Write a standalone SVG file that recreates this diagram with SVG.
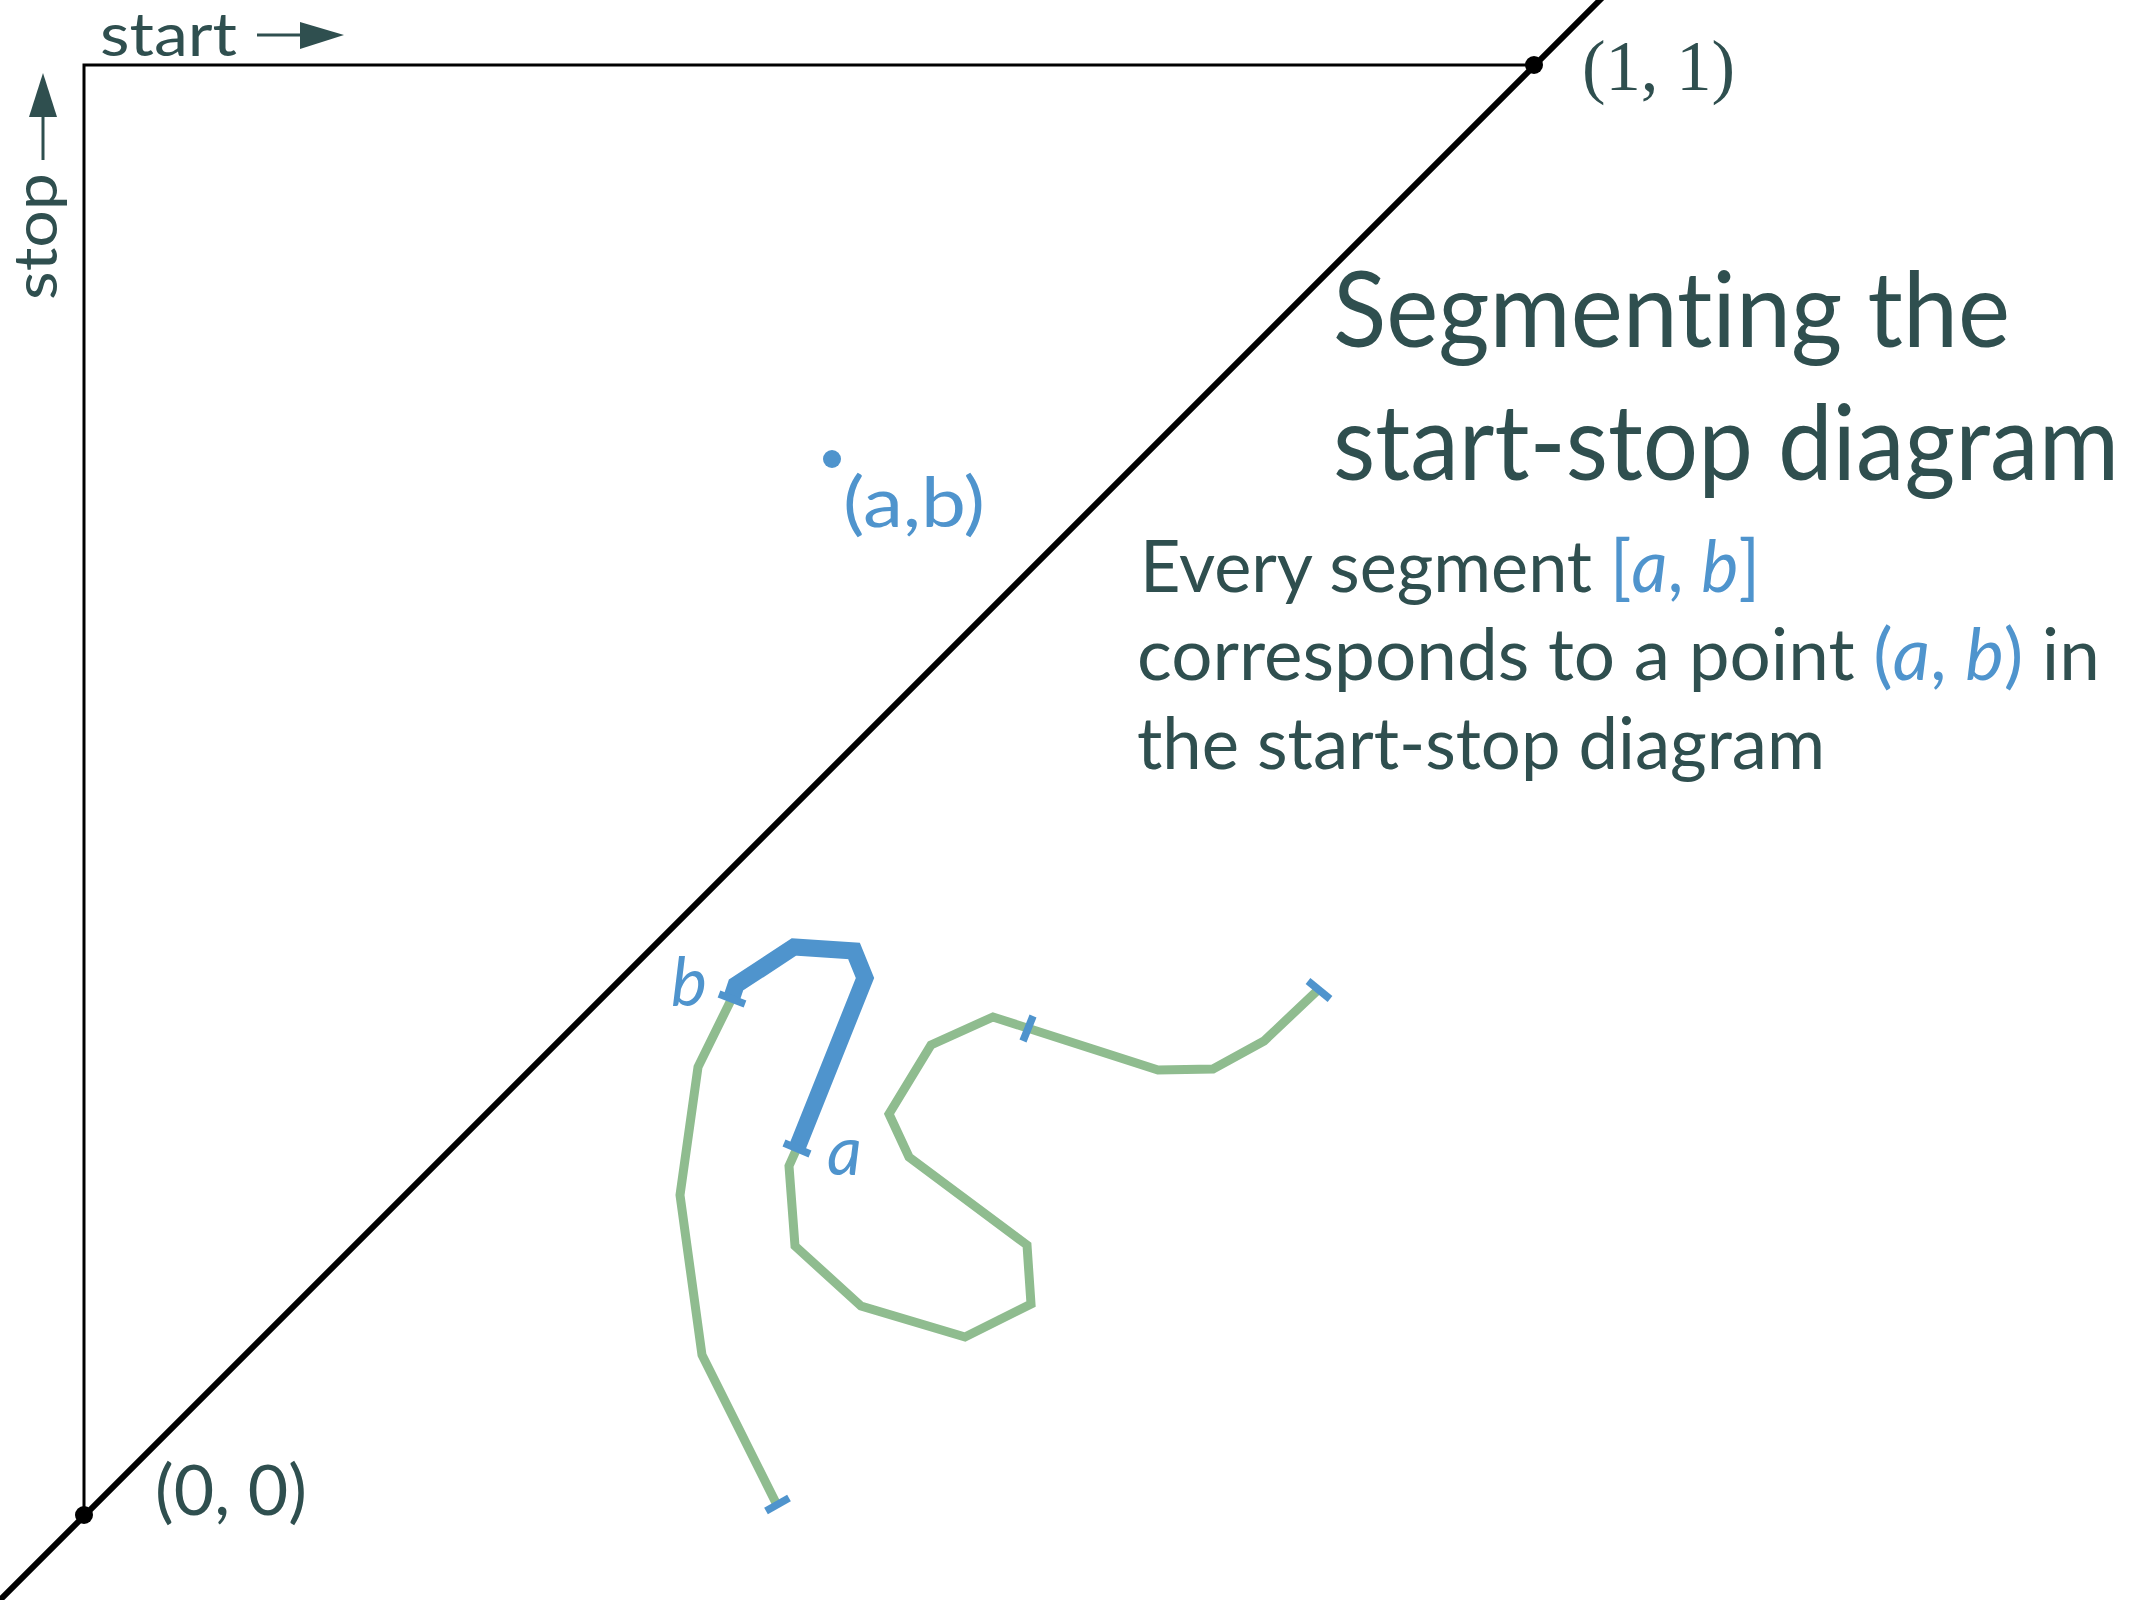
<svg xmlns="http://www.w3.org/2000/svg" width="2134" height="1600" viewBox="0 0 2134 1600">
<style>
  .ink { fill: #2f4f4f; }
  .blue { fill: #4f94cd; }
  text { font-variant-ligatures: none; }
  .sans { font-family: Lato, "Liberation Sans", sans-serif; }
  .dv { font-family: Lato, "DejaVu Sans", sans-serif; }
  .serif { font-family: "Liberation Serif", "DejaVu Serif", serif; }
  .it { font-style: italic; }
  .frame { stroke: #000; stroke-width: 3; fill: none; }
  .diag { stroke: #000; stroke-width: 6; fill: none; }
  .green { stroke: #8fbc8f; stroke-width: 9; fill: none; stroke-linejoin: miter; }
  .seg { stroke: #4f94cd; stroke-width: 17; fill: none; stroke-linejoin: miter; }
  .tick { stroke: #4f94cd; stroke-width: 7.5; fill: none; }
  .axarrow { stroke: #2f4f4f; stroke-width: 3; fill: none; }
</style>
<rect width="2134" height="1600" fill="#ffffff"/>

<g id="axes">
  <path class="frame" d="M84,1515 L84,65 L1534,65"/>
  <line class="diag" x1="-2" y1="1602" x2="1602" y2="-2"/>
  <circle cx="84" cy="1515" r="9" fill="#000"/>
  <circle cx="1534" cy="65" r="9" fill="#000"/>
</g>

<g id="start-label">
  <text class="dv ink" x="100" y="56" font-size="60" textLength="137" lengthAdjust="spacingAndGlyphs">start</text>
  <line class="axarrow" x1="257" y1="35" x2="302" y2="35"/>
  <polygon class="ink" points="300,22 344,35 300,49"/>
</g>

<g id="stop-label">
  <text class="dv ink" transform="translate(57,300) rotate(-90)" font-size="60" textLength="127" lengthAdjust="spacingAndGlyphs">stop</text>
  <line class="axarrow" x1="43" y1="160" x2="43" y2="115"/>
  <polygon class="ink" points="29,117 43,73 57,117"/>
</g>

<g id="origin-label">
  <text class="sans ink" x="155" y="1515" font-size="70" textLength="152" lengthAdjust="spacingAndGlyphs">(0, 0)</text>
</g>

<g id="one-one-label">
  <text class="serif ink" x="1582" y="90" font-size="72" textLength="153" lengthAdjust="spacingAndGlyphs">(1, 1)</text>
</g>

<g id="point-ab">
  <circle cx="832" cy="459" r="9" class="blue"/>
  <text class="sans blue" x="843" y="527" font-size="70" textLength="142" lengthAdjust="spacingAndGlyphs">(a,b)</text>
</g>

<g id="title">
  <text class="sans ink" x="1333" y="347" font-size="104" textLength="677" lengthAdjust="spacingAndGlyphs">Segmenting the</text>
  <text class="sans ink" x="1333" y="480" font-size="104" textLength="786" lengthAdjust="spacingAndGlyphs">start-stop diagram</text>
</g>

<g id="description">
  <text class="sans" x="1140" y="592" font-size="72" textLength="620" lengthAdjust="spacingAndGlyphs"><tspan class="ink">Every segment </tspan><tspan class="blue">[</tspan><tspan class="blue it">a</tspan><tspan class="blue">, </tspan><tspan class="blue it">b</tspan><tspan class="blue">]</tspan></text>
  <text class="sans" x="1137" y="680" font-size="72" textLength="963" lengthAdjust="spacingAndGlyphs"><tspan class="ink">corresponds to a point </tspan><tspan class="blue">(</tspan><tspan class="blue it">a</tspan><tspan class="blue">, </tspan><tspan class="blue it">b</tspan><tspan class="blue">)</tspan><tspan class="ink"> in</tspan></text>
  <text class="sans ink" x="1137" y="769" font-size="72" textLength="688" lengthAdjust="spacingAndGlyphs">the start-stop diagram</text>
</g>

<g id="connectors">
  <polyline class="green" points="777,1505 702,1355 680,1195 698,1067 731,1000 736,985 794,947 854,951 865,978 797,1148 789,1166 795,1246 861,1306 965,1337 1031,1304 1027,1245 909,1157 889,1114 931,1045 993,1017 1158,1070 1213,1069 1264,1041 1319,989"/>
  <polyline class="seg" points="731,1000 736,985 794,947 854,951 865,978 797,1148"/>
  <line class="tick" x1="766" y1="1511" x2="789" y2="1498"/>
  <line class="tick" x1="719" y1="994" x2="745" y2="1004"/>
  <line class="tick" x1="784" y1="1143" x2="810" y2="1154"/>
  <line class="tick" x1="1033" y1="1016" x2="1023" y2="1041"/>
  <line class="tick" x1="1308" y1="981" x2="1330" y2="999"/>
</g>

<g id="segment-labels">
  <text class="sans blue it" x="671" y="1006" font-size="68">b</text>
  <text class="sans blue it" x="827" y="1175" font-size="68">a</text>
</g>
</svg>
